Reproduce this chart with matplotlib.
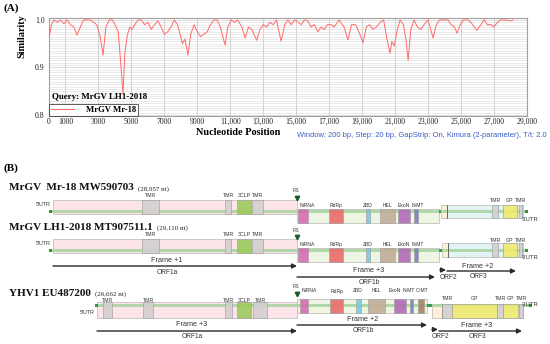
import numpy as np
import matplotlib
matplotlib.use("Agg")
import matplotlib.pyplot as plt
from matplotlib.patches import Rectangle

# ---------------- data: panel A (similarity plot) ----------------
positions = [0, 150, 300, 500, 700, 900, 1100, 1300, 1500, 1700, 1900, 2100, 2300, 2500,
             2700, 2900, 3100, 3280, 3450, 3650, 3850, 4000, 4200, 4350, 4490, 4600, 4750,
             4900, 5050, 5200, 5400, 5600, 5800, 6000, 6200, 6400, 6600, 6800, 7000, 7200,
             7400, 7600, 7800, 7950, 8100, 8250, 8430, 8600, 8800, 9000, 9200, 9400, 9600,
             9800, 10000, 10200, 10400, 10680, 10850, 11050, 11250, 11450, 11700, 11900,
             12100, 12300, 12600, 12800, 13000, 13200, 13400, 13600, 13800, 14080, 14300,
             14500, 14700, 14900, 15100, 15300, 15500, 15700, 15900, 16100, 16300, 16500,
             16700, 16900, 17100, 17300, 17600, 17900, 18140, 18350, 18600, 18800, 19050,
             19250, 19450, 19650, 19850, 20100, 20300, 20500, 20690, 20800, 20950, 21100,
             21300, 21500, 21650, 21790, 21950, 22150, 22350, 22550, 22750, 23000, 23300,
             23500, 23700, 24000, 24200, 24400, 24600, 24760, 24950, 25150, 25400, 25600,
             25800, 25970, 26200, 26400, 26600, 26800, 27000, 27200, 27400, 27700, 28000, 28150]
similarity = [0.962, 0.99, 1.0, 0.995, 1.0, 0.992, 1.0, 0.99, 0.985, 0.968, 0.985, 1.0, 1.0, 1.0,
              0.995, 0.99, 0.965, 0.926, 0.985, 1.0, 1.0, 0.99, 0.975, 0.91, 0.844, 0.93, 0.968,
              0.985, 0.98, 0.99, 1.0, 1.0, 0.99, 0.995, 0.98, 0.99, 0.998, 0.985, 0.97, 0.975,
              0.985, 1.0, 0.99, 0.97, 0.95, 0.96, 0.926, 0.97, 0.99, 0.975, 0.965, 0.97, 0.975,
              0.99, 1.0, 1.0, 0.985, 0.947, 0.985, 1.0, 0.995, 1.0, 0.985, 0.962,
              0.985, 0.98, 0.957, 0.98, 0.99, 0.985, 0.995, 0.99, 1.0, 0.955, 0.99,
              1.0, 0.99, 1.0, 0.995, 0.99, 1.0, 0.998, 0.985, 0.99, 0.975, 0.985,
              0.98, 0.99, 0.99, 0.985, 1.0, 0.985, 0.958, 0.99, 0.99, 0.975, 0.952,
              0.985, 0.99, 0.98, 0.985, 0.995, 1.0, 0.96, 0.93, 0.955, 0.945, 0.975,
              1.0, 0.99, 0.96, 0.915, 0.98, 1.0, 0.985, 0.98, 0.99, 1.0, 0.962,
              0.99, 1.0, 1.0, 1.0, 0.99, 0.985, 0.972, 0.99, 1.0, 1.0, 0.995,
              0.985, 0.978, 0.99, 1.0, 0.99, 0.99, 0.985, 0.995, 1.0, 1.0, 0.998, 1.0]
x_ticks = [0, 1000, 3000, 5000, 7000, 9000, 11000, 13000, 15000, 17000, 19000, 21000,
           23000, 25000, 27000, 29000]
x_tick_labels = ["0", "1000", "3000", "5000", "7000", "9000", "11,000", "13,000", "15,000",
                 "17,000", "19,000", "21,000", "23,000", "25,000", "27,000", "29,000"]
y_ticks = [0.8, 0.9, 1.0]
y_tick_labels = ["0.8", "0.9", "1.0"]
query_name = "Query: MrGV LH1-2018"
series_name = "MrGV Mr-18"
window_note = "Window: 200 bp, Step: 20 bp, GapStrip: On, Kimura (2-parameter), T/t: 2.0"

# ---------------- data: panel B (genome maps, diagram units) ----------------
genome_titles = ["MrGV  Mr-18 MW590703", "MrGV LH1-2018 MT907511.1", "YHV1 EU487200"]
genome_sizes = ["(28,957 nt)", "(29,110 nt)", "(26,662 nt)"]
orf1a_mr18 = [("TMR", 142, 159), ("TMR", 225, 231), ("3CLP", 237, 251), ("TMR", 252, 263)]
orf1a_lh1 = [("TMR", 142, 159), ("TMR", 225, 231), ("3CLP", 237, 251), ("TMR", 252, 263)]
orf1a_yhv = [("TMR", 103, 112), ("TMR", 143, 153), ("TMR", 225, 232), ("3CLP", 237, 251),
             ("TMR", 253, 267)]
orf1b_mrgv = [("NiRNA", 298, 308), ("RdRp", 329, 343), ("ZBD", 366, 370), ("HEL", 380, 395),
              ("ExoN", 398, 410), ("N-MT", 414, 418)]
orf1b_mrgv_label_x = [307, 336, 368, 387, 404, 418]
orf1b_yhv = [("NiRNA", 300, 308), ("RdRp", 330, 343), ("ZBD", 356, 361), ("HEL", 368, 385),
             ("ExoN", 394, 406), ("N-MT", 410, 413), ("O-MT", 418, 424)]
orf1b_yhv_label_x = [309, 337, 358, 376, 395, 409, 422]
orf3_mrgv = [("TMR", 492, 498), ("GP", 503, 517), ("TMR", 519, 522)]
orf3_yhv = [("TMR", 442, 452), ("GP", 452, 497), ("TMR", 497, 503), ("GP", 503, 518),
            ("TMR", 519, 523)]
genome_span = [(49, 528), (49, 528), (95, 532)]
orf1a_span = [(53, 297), (53, 297), (97, 297)]
orf1b_span = [(297, 439), (297, 439), (297, 427)]
orf2_span = [(441, 447), (442, 448), (432, 442)]
orf3_span = [(447, 523), (448, 523), (442, 523)]
frame_labels_lh1 = ["Frame +1", "Frame +3", "Frame +2"]
frame_labels_yhv = ["Frame +3", "Frame +2", "Frame +3"]
orf_names = ["ORF1a", "ORF1b", "ORF2", "ORF3"]

# ---------------- styles ----------------
SERIF = "Liberation Serif"
SANS = "Liberation Sans"
dom_colors = {"TMR": "#d3cfcf", "3CLP": "#9ccc5c", "NiRNA": "#d86ab4", "RdRp": "#ea6b6b",
              "ZBD": "#7cc8e2", "HEL": "#c3ad97", "ExoN": "#b26cb8", "N-MT": "#7a80b8",
              "O-MT": "#a88461", "GP": "#f1ea6f"}

W, H = 550, 344
fig = plt.figure(figsize=(5.5, 3.44), dpi=100)
fig.patch.set_facecolor("white")

bx = fig.add_axes([0, 0, 1, 1])
bx.set_xlim(0, W)
bx.set_ylim(H, 0)
bx.axis("off")

# ---------------- panel A ----------------
ax = fig.add_axes([49 / W, 1 - 116 / H, 478 / W, 98 / H])
ax.set_zorder(2)
ax.plot(positions, similarity, color="#ff6a6a", lw=0.7, label=series_name, zorder=3)
ax.set_xlim(0, 29000)
ax.set_ylim(0.798, 1.004)
ax.set_xticks(x_ticks)
ax.set_xticklabels(x_tick_labels, fontfamily=SERIF, fontsize=5.6)
ax.set_yticks(y_ticks)
ax.set_yticklabels(y_tick_labels, fontfamily=SERIF, fontsize=5.6)
ax.set_yticks(np.arange(0.8, 1.0001, 0.005), minor=True)
ax.tick_params(which="both", length=0, colors="#222222")
ax.tick_params(axis="x", pad=1.5)
ax.tick_params(axis="y", pad=3)
ax.grid(which="minor", axis="y", color="#dedede", lw=0.45)
ax.grid(which="major", axis="y", color="#cfcfcf", lw=0.5)
ax.grid(which="major", axis="x", color="#cfcfcf", lw=0.7)
for s in ax.spines.values():
    s.set_color("#a0a0a0")
    s.set_linewidth(0.8)
leg = ax.legend(loc="lower left", bbox_to_anchor=(0, 0, 89 / 478, 14 / 98), mode="expand",
                borderaxespad=0, frameon=True, fancybox=False, handlelength=2.6,
                handletextpad=1.4, borderpad=0.25,
                prop={"family": SERIF, "weight": "bold", "size": 6.2})
leg.get_frame().set_edgecolor("#333333")
leg.get_frame().set_linewidth(0.7)
ax.text(3 / 478, (116 - 97) / 98, query_name, transform=ax.transAxes, fontfamily=SERIF,
        fontweight="bold", fontsize=6.4, va="center", ha="left", zorder=6)

bx.text(3, 8, "(A)", fontfamily=SERIF, fontweight="bold", fontsize=8, va="center")
bx.text(22, 36, "Similarity", fontfamily=SERIF, fontweight="bold", fontsize=7.4,
        rotation=90, va="center", ha="center")
bx.text(238, 132.5, "Nucleotide Position", fontfamily=SERIF, fontweight="bold", fontsize=7.4,
        va="center", ha="center")
bx.text(547, 135.5, window_note, fontfamily=SANS, fontsize=5.4, color="#3a5cc8",
        va="center", ha="right")
bx.text(4, 168, "(B)", fontfamily=SERIF, fontweight="bold", fontsize=8, va="center")

# ---------------- panel B ----------------
def rect(x0, x1, y0, y1, fc, ec="#b8b8b8", lw=0.5, z=2, alpha=1.0):
    bx.add_patch(Rectangle((x0, y0), x1 - x0, y1 - y0, facecolor=fc, edgecolor=ec,
                           lw=lw, zorder=z, alpha=alpha))

def small(x, y, s, size=4.0, ha="center", color="#333333"):
    bx.text(x, y, s, fontfamily=SANS, fontsize=size, ha=ha, va="center", color=color, zorder=6)

layout = [
    dict(title_y=188, a=(200, 214), b=(209, 223), c=(205, 218), strip=(210, 213),
         fs=190.5, tri=197.5, la=195.5, lb=205.5, lc=201, utr5=205, utr3=219.5),
    dict(title_y=227, a=(239, 253), b=(248, 262), c=(243, 257), strip=(249, 252),
         fs=230, tri=237, la=234.5, lb=244.5, lc=240, utr5=243.5, utr3=257.5),
    dict(title_y=293, a=(302, 318), b=(299, 313), c=(304, 318), strip=(304, 307),
         fs=286.5, tri=294, la=300.5, lb=291, lc=298.5, utr5=312, utr3=304.5),
]
orf1a_sets = [orf1a_mr18, orf1a_lh1, orf1a_yhv]
orf1b_sets = [orf1b_mrgv, orf1b_mrgv, orf1b_yhv]
orf1b_lx = [orf1b_mrgv_label_x, orf1b_mrgv_label_x, orf1b_yhv_label_x]
orf3_sets = [orf3_mrgv, orf3_mrgv, orf3_yhv]

for i, L in enumerate(layout):
    t = bx.text(9, L["title_y"], genome_titles[i], fontfamily=SERIF, fontweight="bold",
                fontsize=8.0, va="center", ha="left", color="#111111")
    bx.annotate(genome_sizes[i], xy=(1, 0.42), xycoords=t, xytext=(3, 0),
                textcoords="offset points", fontfamily=SERIF, fontsize=5, va="center",
                ha="left", color="#222222")
    g0, g1 = genome_span[i]
    rect(orf1a_span[i][0], orf1a_span[i][1], *L["a"], fc="#fce4e8")
    rect(orf1b_span[i][0], orf1b_span[i][1], *L["b"], fc="#eef5e2")
    rect(orf2_span[i][0], orf2_span[i][1], *L["c"], fc="#fdf0d6")
    rect(orf3_span[i][0], orf3_span[i][1], *L["c"], fc="#e2f3f3")
    rect(g0, g1, *L["strip"], fc="#a7d39e", ec="none", lw=0, z=3, alpha=0.85)
    rect(orf1b_span[i][1], orf2_span[i][0], *L["strip"], fc="#3d9a4e", ec="none", lw=0, z=3)
    rect(g0, g0 + 3, *L["strip"], fc="#2f9447", ec="none", lw=0, z=3)
    rect(g1 - 3, g1, *L["strip"], fc="#2f9447", ec="none", lw=0, z=3)
    bx.plot([orf3_span[i][0]] * 2, L["c"], color="#555555", lw=0.6, zorder=4)
    for name, s, e in orf1a_sets[i]:
        rect(s, e, *L["a"], fc=dom_colors[name], ec="#a0a0a0", z=4, alpha=0.9)
        small((s + e) / 2, L["la"], name, size=3.8)
    for (name, s, e), lx in zip(orf1b_sets[i], orf1b_lx[i]):
        rect(s, e, *L["b"], fc=dom_colors[name], ec="#a0a0a0", z=4, alpha=0.9)
        small(lx, L["lb"], name, size=3.6)
    for name, s, e in orf3_sets[i]:
        rect(s, e, *L["c"], fc=dom_colors[name], ec="#a0a0a0", z=4, alpha=0.9)
        small((s + e) / 2, L["lc"], name, size=3.8)
    small(orf1a_span[i][1] - 1, L["fs"], "FS", size=3.8)
    bx.plot(orf1a_span[i][1], L["tri"], marker="v", ms=3.2, color="#1e5a2c", zorder=6)
    small(orf1a_span[i][0] - 2, L["utr5"], "5'UTR", size=3.9, ha="right")
    small(orf3_span[i][1] - 1, L["utr3"], "3'UTR", size=4.2, ha="left")

def arrow(x0, x1, y):
    bx.annotate("", xy=(x1, y), xytext=(x0, y),
                arrowprops=dict(arrowstyle="-|>", color="#2a2a2a", lw=1.0,
                                mutation_scale=7, shrinkA=0, shrinkB=0), zorder=5)

arrow_sets = [
    (frame_labels_lh1, [(53, 297, 266), (297, 435, 277), (440, 446, 270), (447, 516, 271)],
     [(167, 260, 272), (369, 271, 282), (None, None, 277.5), (478, 266, 277)]),
    (frame_labels_yhv, [(97, 297, 331), (297, 427, 325), (432, 438, 329.5), (439, 522, 331)],
     [(192, 325, 337), (363, 319.5, 331), (None, None, 337), (477, 325.5, 337)]),
]
for frames, arrs, labs in arrow_sets:
    fi = 0
    for k, ((x0, x1, y), (lx, fy, oy)) in enumerate(zip(arrs, labs)):
        arrow(x0, x1, y)
        if lx is None:
            small(x1 + 2, oy, orf_names[k], size=4.8, ha="center")
        else:
            small(lx, fy, frames[fi], size=5.2)
            small(lx, oy, orf_names[k], size=4.8)
            fi += 1

fig.savefig("out.png", dpi=100, facecolor="white")
